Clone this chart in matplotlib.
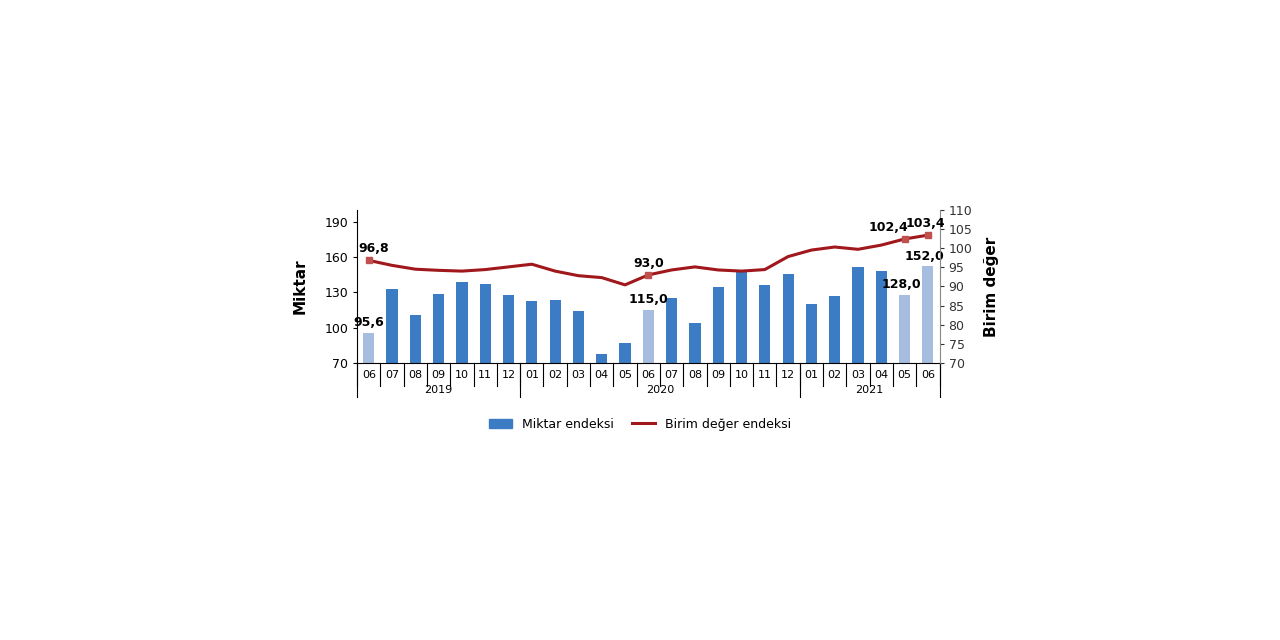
import matplotlib
matplotlib.use("Agg")
import matplotlib.pyplot as plt

months = ["06","07","08","09","10","11","12","01","02","03","04","05","06","07","08","09","10","11","12","01","02","03","04","05","06"]
years = ["2019", "2020", "2021"]
year_spans = [(0, 7), (7, 19), (19, 25)]
miktar = [95.6,132.6,111,128.9,138.6,136.9,128,122.2,123.7,113.9,77.2,87,115.0,125.4,104.2,134.9,148.3,135.9,145.2,119.7,126.5,151.2,148.3,128.0,152.0]
birim = [96.8,95.5,94.5,94.2,94.0,94.4,95.1,95.8,94.0,92.8,92.3,90.4,93.0,94.3,95.1,94.3,94.0,94.4,97.8,99.5,100.3,99.7,100.8,102.4,103.4]
highlight = [0, 12, 23, 24]
line_marks = [0, 12, 23, 24]

fig = plt.figure(figsize=(12.8, 6.4), dpi=100)
ax = fig.add_axes([0.279, 0.433, 0.455, 0.239])
x = list(range(len(months)))
colors = ["#a6bddf" if i in highlight else "#3b7cc4" for i in x]
ax.bar(x, [m - 70 for m in miktar], bottom=70, width=0.48, color=colors, zorder=2)
ax.set_xlim(-0.5, len(months) - 0.5)
ax.set_ylim(70, 200)
ax.set_yticks([70, 100, 130, 160, 190])
ax.tick_params(axis="y", labelsize=9, length=3)
ax.set_xticks([])
for s in ["top", "right"]:
    ax.spines[s].set_visible(False)
ax.set_ylabel("Miktar", fontsize=11, fontweight="bold", labelpad=12)
bar_dx = {0: 0, 12: 0, 23: -0.15, 24: -0.15}
for i in highlight:
    ax.text(i + bar_dx[i], miktar[i] + 3, f"{miktar[i]:.1f}".replace(".", ","), ha="center", va="bottom", fontsize=9, fontweight="bold")

ax2 = ax.twinx()
ax2.set_ylim(70, 110)
ax2.set_yticks(range(70, 111, 5))
ax2.tick_params(axis="y", labelsize=9, length=3, colors="#333333")
for s in ["top", "left", "bottom"]:
    ax2.spines[s].set_visible(False)
ax2.spines["right"].set_color("#888888")
ax2.plot(x, birim, color="#a0171c", lw=2.2, zorder=3)
ax2.plot([x[i] for i in line_marks], [birim[i] for i in line_marks], "s", color="#c0504d", ms=5, zorder=4)
line_dx = {0: 0.2, 12: 0, 23: -0.7, 24: -0.1}
for i in line_marks:
    ax2.text(i + line_dx[i], birim[i] + 1.3, f"{birim[i]:.1f}".replace(".", ","), ha="center", va="bottom", fontsize=9, fontweight="bold")
ax2.set_ylabel("Birim değer", fontsize=11, fontweight="bold", labelpad=8)

# category axis
tr = ax.get_xaxis_transform()
for i in range(len(months) + 1):
    ax.plot([i - 0.5, i - 0.5], [0, -0.15], transform=tr, color="black", lw=0.8, clip_on=False)
for i, m in enumerate(months):
    ax.text(i, -0.08, m, transform=tr, ha="center", va="center", fontsize=8)
for (a, b), y in zip(year_spans, years):
    ax.plot([a - 0.5, a - 0.5], [0, -0.22], transform=tr, color="black", lw=0.8, clip_on=False)
    ax.text((a + b - 1) / 2, -0.18, y, transform=tr, ha="center", va="center", fontsize=8)
ax.plot([len(months) - 0.5] * 2, [0, -0.22], transform=tr, color="black", lw=0.8, clip_on=False)

from matplotlib.patches import Patch
from matplotlib.lines import Line2D
handles = [Patch(color="#3b7cc4"), Line2D([], [], color="#a0171c", lw=2.2)]
fig.legend(handles, ["Miktar endeksi", "Birim değer endeksi"], loc="center", bbox_to_anchor=(0.5, 0.337),
           ncol=2, frameon=False, fontsize=9, handlelength=1.8, columnspacing=1.5)
fig.savefig("out.png", dpi=100)
